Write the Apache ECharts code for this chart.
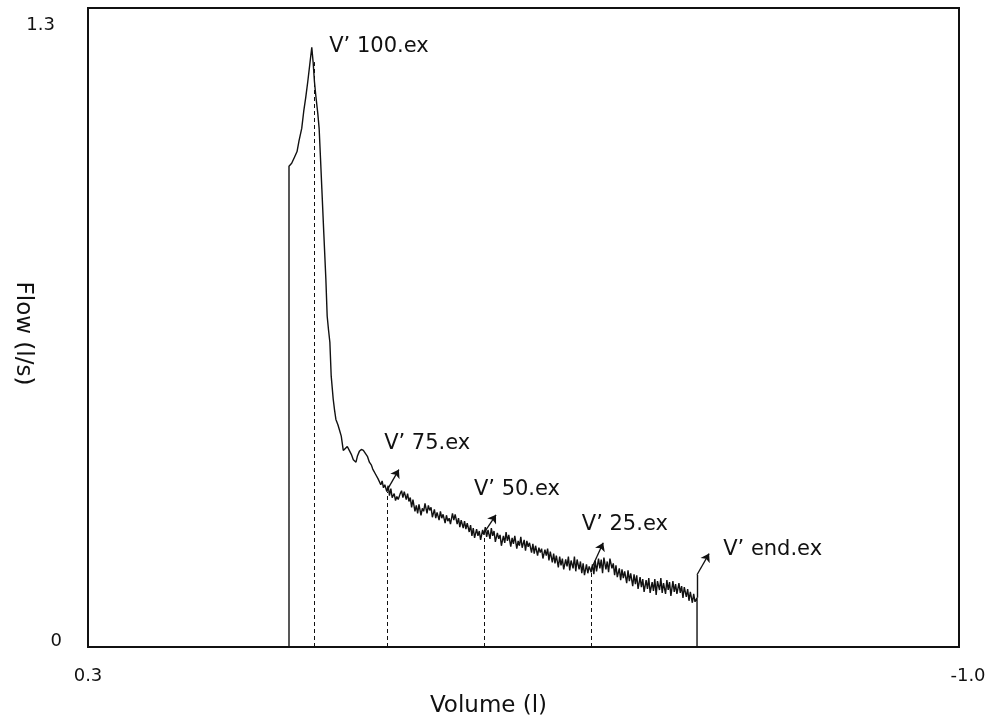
<!DOCTYPE html>
<html>
<head>
<meta charset="utf-8">
<title>Flow-volume curve</title>
<script src="https://cdn.jsdelivr.net/npm/echarts@6/dist/echarts.min.js"></script>
<style>
  html, body { margin: 0; padding: 0; background: #fff; }
  #chart { width: 996px; height: 723px; }
</style>
</head>
<body>
<div id="chart"></div>
<script>
// Expiratory flow-volume curve: [volume (l), flow (l/s)]
const flowVolume = [
  [0, 0], [0, 0.978], [-0.004, 0.984], [-0.008, 0.996], [-0.012, 1.008], [-0.015, 1.030],
  [-0.019, 1.055], [-0.022, 1.090], [-0.025, 1.118], [-0.028, 1.150], [-0.031, 1.185],
  [-0.034, 1.220], [-0.036, 1.190], [-0.038, 1.150], [-0.040, 1.122], [-0.043, 1.085],
  [-0.045, 1.055], [-0.047, 0.995], [-0.049, 0.933], [-0.052, 0.840], [-0.055, 0.749],
  [-0.057, 0.673], [-0.059, 0.645], [-0.061, 0.620], [-0.063, 0.551], [-0.066, 0.504],
  [-0.068, 0.482], [-0.070, 0.463], [-0.073, 0.452], [-0.075, 0.443], [-0.078, 0.429],
  [-0.081, 0.400], [-0.084, 0.404], [-0.087, 0.408], [-0.090, 0.400], [-0.093, 0.392],
  [-0.096, 0.381], [-0.100, 0.376], [-0.102, 0.388], [-0.105, 0.398], [-0.108, 0.402],
  [-0.111, 0.400], [-0.114, 0.394], [-0.117, 0.388], [-0.120, 0.376], [-0.123, 0.370],
  [-0.125, 0.362], [-0.127, 0.366], [-0.129, 0.352], [-0.131, 0.356], [-0.133, 0.342],
  [-0.135, 0.346], [-0.137, 0.330], [-0.139, 0.338], [-0.141, 0.324], [-0.143, 0.330],
  [-0.146, 0.316], [-0.148, 0.328], [-0.150, 0.308], [-0.152, 0.322], [-0.154, 0.304],
  [-0.157, 0.312], [-0.159, 0.298], [-0.161, 0.306], [-0.163, 0.300], [-0.166, 0.312],
  [-0.168, 0.318], [-0.170, 0.304], [-0.172, 0.316], [-0.175, 0.300], [-0.177, 0.312],
  [-0.179, 0.296], [-0.181, 0.304], [-0.183, 0.284], [-0.185, 0.300], [-0.188, 0.276],
  [-0.190, 0.288], [-0.192, 0.272], [-0.194, 0.290], [-0.197, 0.268], [-0.199, 0.282],
  [-0.201, 0.276], [-0.203, 0.292], [-0.206, 0.272], [-0.208, 0.288], [-0.210, 0.278],
  [-0.212, 0.284], [-0.214, 0.264], [-0.217, 0.280], [-0.219, 0.262], [-0.221, 0.274],
  [-0.224, 0.258], [-0.226, 0.276], [-0.228, 0.262], [-0.230, 0.270], [-0.233, 0.252],
  [-0.235, 0.268], [-0.237, 0.256], [-0.239, 0.262], [-0.241, 0.250], [-0.244, 0.272],
  [-0.246, 0.258], [-0.248, 0.270], [-0.251, 0.250], [-0.253, 0.262], [-0.255, 0.244],
  [-0.257, 0.258], [-0.260, 0.242], [-0.262, 0.256], [-0.264, 0.240], [-0.266, 0.252],
  [-0.269, 0.234], [-0.271, 0.248], [-0.273, 0.226], [-0.275, 0.242], [-0.277, 0.222],
  [-0.280, 0.240], [-0.282, 0.226], [-0.284, 0.236], [-0.286, 0.218], [-0.289, 0.238],
  [-0.291, 0.228], [-0.293, 0.244], [-0.295, 0.224], [-0.297, 0.238], [-0.300, 0.220],
  [-0.302, 0.242], [-0.304, 0.226], [-0.306, 0.236], [-0.308, 0.214], [-0.311, 0.232],
  [-0.313, 0.220], [-0.315, 0.228], [-0.317, 0.206], [-0.320, 0.226], [-0.322, 0.212],
  [-0.324, 0.234], [-0.326, 0.216], [-0.328, 0.228], [-0.331, 0.204], [-0.333, 0.222],
  [-0.335, 0.210], [-0.337, 0.226], [-0.340, 0.200], [-0.342, 0.216], [-0.344, 0.206],
  [-0.346, 0.224], [-0.348, 0.202], [-0.351, 0.218], [-0.353, 0.196], [-0.355, 0.216],
  [-0.357, 0.204], [-0.359, 0.212], [-0.362, 0.192], [-0.364, 0.210], [-0.366, 0.190],
  [-0.368, 0.206], [-0.371, 0.186], [-0.373, 0.202], [-0.375, 0.192], [-0.377, 0.200],
  [-0.379, 0.180], [-0.382, 0.198], [-0.384, 0.186], [-0.386, 0.200], [-0.388, 0.176],
  [-0.390, 0.194], [-0.393, 0.172], [-0.395, 0.190], [-0.397, 0.170], [-0.399, 0.186],
  [-0.402, 0.162], [-0.404, 0.184], [-0.406, 0.166], [-0.408, 0.180], [-0.410, 0.158],
  [-0.413, 0.178], [-0.415, 0.164], [-0.417, 0.184], [-0.419, 0.156], [-0.421, 0.176],
  [-0.424, 0.160], [-0.426, 0.184], [-0.428, 0.154], [-0.430, 0.178], [-0.433, 0.158],
  [-0.435, 0.174], [-0.437, 0.150], [-0.439, 0.170], [-0.441, 0.146], [-0.444, 0.168],
  [-0.446, 0.150], [-0.448, 0.164], [-0.451, 0.152], [-0.453, 0.168], [-0.455, 0.148],
  [-0.457, 0.176], [-0.459, 0.154], [-0.462, 0.180], [-0.464, 0.160], [-0.466, 0.178],
  [-0.468, 0.150], [-0.470, 0.182], [-0.473, 0.158], [-0.475, 0.174], [-0.477, 0.152],
  [-0.479, 0.180], [-0.482, 0.160], [-0.484, 0.170], [-0.486, 0.146], [-0.488, 0.166],
  [-0.490, 0.142], [-0.493, 0.160], [-0.495, 0.136], [-0.497, 0.158], [-0.499, 0.140],
  [-0.501, 0.154], [-0.504, 0.130], [-0.506, 0.156], [-0.508, 0.134], [-0.510, 0.150],
  [-0.513, 0.124], [-0.515, 0.148], [-0.517, 0.128], [-0.519, 0.146], [-0.521, 0.118],
  [-0.524, 0.142], [-0.526, 0.122], [-0.528, 0.138], [-0.530, 0.112], [-0.533, 0.136],
  [-0.535, 0.118], [-0.537, 0.140], [-0.539, 0.110], [-0.542, 0.132], [-0.544, 0.114],
  [-0.546, 0.138], [-0.548, 0.106], [-0.550, 0.134], [-0.553, 0.116], [-0.555, 0.140],
  [-0.557, 0.110], [-0.559, 0.130], [-0.562, 0.108], [-0.564, 0.136], [-0.566, 0.116],
  [-0.568, 0.132], [-0.570, 0.104], [-0.573, 0.134], [-0.575, 0.112], [-0.577, 0.128],
  [-0.579, 0.108], [-0.582, 0.130], [-0.584, 0.110], [-0.586, 0.124], [-0.588, 0.100],
  [-0.590, 0.122], [-0.593, 0.102], [-0.595, 0.118], [-0.597, 0.094], [-0.599, 0.112],
  [-0.602, 0.090], [-0.604, 0.108], [-0.606, 0.092], [-0.609, 0.100], [-0.609, 0]
];

// Characteristic points: name, volume, flow on the curve
const markerNames  = ['V’ 100.ex', 'V’ 75.ex', 'V’ 50.ex', 'V’ 25.ex', 'V’ end.ex'];
const markerVolume = [-0.037, -0.146, -0.291, -0.451, -0.609];
const markerFlow   = [1.19, 0.316, 0.228, 0.152, 0.100];

// Arrows pointing from the curve towards each label (none for V' 100)
const arrowStart = [null, [-0.146, 0.318], [-0.291, 0.232], [-0.451, 0.158], [-0.609, 0.147]];
const arrowTip   = [null, [-0.164, 0.361], [-0.309, 0.269], [-0.469, 0.212], [-0.627, 0.190]];

// Label anchors (left edge, vertical centre)
const labelAnchor = [[-0.060, 1.222], [-0.142, 0.414], [-0.276, 0.320], [-0.437, 0.249], [-0.648, 0.198]];

// Axis ticks
const xTicks = [0.3, -1.0];
const xTickLabels = ['0.3', '-1.0'];
const yTicks = [0, 1.3];
const yTickLabels = ['0', '1.3'];

const FONT = 'DejaVu Sans';
const INK = '#111';

const dashedDrops = markerVolume.slice(0, 4).map((v, i) => ({
  coords: [[v, 0], [v, markerFlow[i]]]
}));

const last = markerNames.length - 1;
const endStem = [{ coords: [[markerVolume[last], markerFlow[last]], arrowStart[last]] }];

const arrows = [];
for (let i = 1; i < markerNames.length; i++) {
  arrows.push({ coords: [arrowStart[i], arrowTip[i]] });
}

const labels = markerNames.map((n, i) => ({ name: n, value: labelAnchor[i] }));

function nearest(list, v) {
  let best = 0;
  list.forEach((t, i) => { if (Math.abs(t - v) < Math.abs(list[best] - v)) best = i; });
  return best;
}

const chart = echarts.init(document.getElementById('chart'), null, { renderer: 'canvas' });

chart.setOption({
  animation: false,
  backgroundColor: '#fff',
  grid: {
    show: true, left: 88, right: 37, top: 8, bottom: 76,
    containLabel: false, outerBoundsMode: 'none',
    borderColor: INK, borderWidth: 2, backgroundColor: 'transparent'
  },
  xAxis: {
    type: 'value', min: -1.0, max: 0.3, interval: 1.3, inverse: true,
    name: 'Volume (l)', nameLocation: 'middle', nameGap: 48, nameMoveOverlap: false,
    nameTextStyle: { fontFamily: FONT, fontSize: 23, color: INK, padding: [0, 70, 0, 0] },
    axisLine: { show: false }, axisTick: { show: false }, splitLine: { show: false },
    axisLabel: {
      margin: 20, fontFamily: FONT, fontSize: 18, color: INK,
      formatter: v => {
        const i = nearest(xTicks, v);
        return i === 1 ? '{r|' + xTickLabels[i] + '}' : '{n|' + xTickLabels[i] + '}';
      },
      rich: {
        n: { fontFamily: FONT, fontSize: 18, color: INK },
        r: { fontFamily: FONT, fontSize: 18, color: INK, padding: [0, 0, 0, 18] }
      }
    }
  },
  yAxis: {
    type: 'value', min: 0, max: 1.3, interval: 1.3,
    name: 'Flow (l/s)', nameLocation: 'middle', nameGap: 54, nameRotate: -90, nameMoveOverlap: false,
    nameTextStyle: { fontFamily: FONT, fontSize: 23, color: INK, padding: [0, 0, 0, 12] },
    axisLine: { show: false }, axisTick: { show: false }, splitLine: { show: false },
    axisLabel: {
      margin: 26, fontFamily: FONT, fontSize: 18, color: INK,
      formatter: v => {
        const i = nearest(yTicks, v);
        return i === 0 ? '{z|' + yTickLabels[i] + '}' : '{t|' + yTickLabels[i] + '}';
      },
      rich: {
        z: { fontFamily: FONT, fontSize: 18, color: INK, padding: [0, 0, 12, 0] },
        t: { fontFamily: FONT, fontSize: 18, color: INK, padding: [34, 7, 0, 0] }
      }
    }
  },
  series: [
    {
      name: 'Flow', type: 'line', data: flowVolume, showSymbol: false, silent: true,
      lineStyle: { color: INK, width: 1.4 }, z: 3
    },
    {
      name: 'Drops', type: 'lines', coordinateSystem: 'cartesian2d', data: dashedDrops,
      silent: true, symbol: 'none',
      lineStyle: { color: INK, width: 1, type: [4, 3], opacity: 1 }, z: 2
    },
    {
      name: 'End stem', type: 'lines', coordinateSystem: 'cartesian2d', data: endStem,
      silent: true, symbol: 'none',
      lineStyle: { color: INK, width: 1.4, opacity: 1 }, z: 4
    },
    {
      name: 'Arrows', type: 'lines', coordinateSystem: 'cartesian2d',
      data: arrows, silent: true, symbol: ['none', 'arrow'], symbolSize: 8,
      itemStyle: { color: INK },
      lineStyle: { color: INK, width: 1.3, opacity: 1 }, z: 4
    },
    {
      name: 'Labels', type: 'scatter', data: labels, symbolSize: 0, silent: true,
      itemStyle: { opacity: 1, color: INK },
      label: {
        show: true, position: 'right', distance: 0, formatter: '{b}',
        fontFamily: FONT, fontSize: 21, color: INK, opacity: 1
      }, z: 5
    }
  ]
});
</script>
</body>
</html>
